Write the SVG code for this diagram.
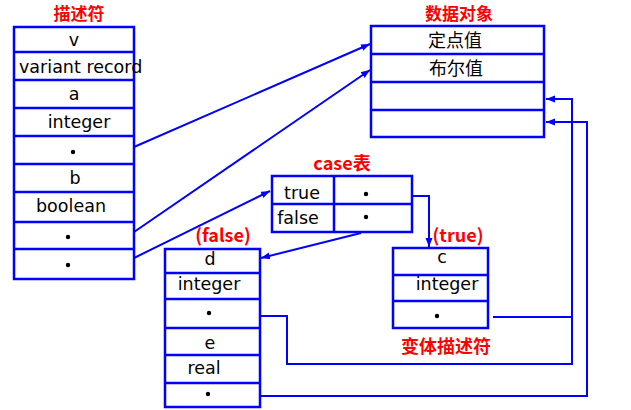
<svg xmlns="http://www.w3.org/2000/svg" width="631" height="410" viewBox="0 0 631 410">
<defs>
<style>
.box{fill:#ffffff;stroke:#0000ff;stroke-width:2.5}
.div{stroke:#0000ff;stroke-width:2.5;fill:none}
.t{font-family:"DejaVu Sans","Noto Sans",sans-serif;font-size:17.5px;fill:#000000}
.c{text-anchor:middle}
.cn{font-family:"Noto Sans CJK SC","Noto Sans",sans-serif;font-size:18px;fill:#000000;text-anchor:middle}
.title{font-family:"Noto Sans CJK SC","Noto Sans",sans-serif;font-size:18px;font-weight:bold;fill:#ff0000;text-anchor:middle}
.top{font-size:17px}
.dot{fill:#000000}
.conn{stroke:#0000ff;stroke-width:2;fill:none}
</style>
<marker id="ah" markerUnits="userSpaceOnUse" markerWidth="10" markerHeight="8" refX="9" refY="3.5" orient="auto">
<path d="M0,0 L9,3.5 L0,7 z" fill="#0000ff"/>
</marker>
</defs>
<rect width="631" height="410" fill="#ffffff"/>

<g id="descriptor">
<text class="title top" x="79" y="20">描述符</text>
<rect class="box" x="14" y="27" width="120" height="252"/>
<path class="div" d="M14,52H134M14,80H134M14,108H134M14,136H134M14,164H134M14,192H134M14,222H134M14,249H134"/>
<text class="t c" x="74" y="46">v</text>
<text class="t" x="19" y="73">variant record</text>
<text class="t c" x="74" y="100">a</text>
<text class="t c" x="79" y="128">integer</text>
<circle class="dot" cx="73" cy="152" r="2.2"/>
<text class="t c" x="75" y="184">b</text>
<text class="t c" x="71" y="212">boolean</text>
<circle class="dot" cx="68" cy="237" r="2.2"/>
<circle class="dot" cx="68" cy="265" r="2.2"/>
</g>

<g id="dataobject">
<text class="title top" x="459" y="20">数据对象</text>
<rect class="box" x="371" y="26" width="173" height="111"/>
<path class="div" d="M371,54H544M371,82H544M371,110H544"/>
<text class="cn" x="455" y="47">定点值</text>
<text class="cn" x="456" y="75">布尔值</text>
</g>

<g id="casetable">
<text class="title" x="342" y="170">case表</text>
<rect class="box" x="272" y="176" width="140" height="56"/>
<path class="div" d="M272,204H412M334,176V232"/>
<text class="t c" x="302" y="199">true</text>
<text class="t c" x="298" y="224">false</text>
<circle class="dot" cx="366" cy="194" r="2.2"/>
<circle class="dot" cx="366" cy="217" r="2.2"/>
</g>

<g id="falsevariant">
<text class="title" x="223" y="242">(false)</text>
<rect class="box" x="165" y="249" width="95" height="158"/>
<path class="div" d="M165,273H260M165,299H260M165,328H260M165,355H260M165,383H260"/>
<text class="t c" x="210" y="265">d</text>
<text class="t c" x="209" y="290">integer</text>
<circle class="dot" cx="209" cy="313" r="2.2"/>
<text class="t c" x="210" y="349">e</text>
<text class="t c" x="204" y="374">real</text>
<circle class="dot" cx="208" cy="394" r="2.2"/>
</g>

<g id="truevariant">
<text class="title" x="458" y="242">(true)</text>
<rect class="box" x="393" y="248" width="95" height="80"/>
<path class="div" d="M393,275H488M393,301H488"/>
<text class="t c" x="442" y="263">c</text>
<text class="t c" x="447" y="290">integer</text>
<circle class="dot" cx="437" cy="316" r="2.2"/>
<text class="title" x="446" y="353">变体描述符</text>
</g>

<g id="connectors">
<path class="conn" d="M134,147L370,44" marker-end="url(#ah)"/>
<path class="conn" d="M134,232L370,70" marker-end="url(#ah)"/>
<path class="conn" d="M134,258L270,191" marker-end="url(#ah)"/>
<path class="conn" d="M412,196H429V247" marker-end="url(#ah)"/>
<path class="conn" d="M361,233L261,258" marker-end="url(#ah)"/>
<path class="conn" d="M261,316H287V364H572V99H546" marker-end="url(#ah)"/>
<path class="conn" d="M493,317H572"/>
<path class="conn" d="M261,396H587V122H546" marker-end="url(#ah)"/>
</g>
</svg>
